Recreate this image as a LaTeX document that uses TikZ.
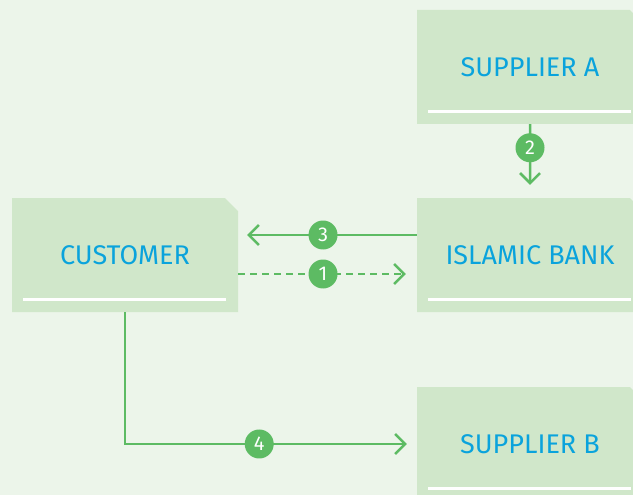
\documentclass[tikz,border=0pt]{standalone}
\usepackage{fontspec}
\setmainfont{Fira Sans}
\usetikzlibrary{shapes.misc, arrows.meta, positioning}
\definecolor{pagebg}{HTML}{ECF5EA}
\definecolor{boxfill}{HTML}{D0E7CA}
\definecolor{flowgreen}{HTML}{5DBB63}
\definecolor{labelblue}{HTML}{0AA3DC}
\tikzstyle{party} = [chamfered rectangle, chamfered rectangle corners=north east,
    chamfered rectangle xsep=15pt, fill=boxfill, inner sep=0pt,
    minimum width=226pt, minimum height=114pt, text=labelblue,
    font=\fontsize{27}{30}\selectfont]
\tikzstyle{num} = [circle, fill=flowgreen, text=white, inner sep=0pt,
    minimum size=29pt, font=\fontsize{20}{21}\selectfont]
\tikzstyle{flow} = [draw=flowgreen, line width=2.5pt]
\tikzstyle{rule} = [draw=white, line width=3pt]

\begin{document}
\begin{tikzpicture}[x=1pt, y=-1pt, node distance=405pt, >={Straight Barb[length=10pt,width=20pt]}]
    \useasboundingbox (0,0) rectangle (633,495);
    \clip (0,0) rectangle (633,495);
    \fill [pagebg] (0,0) rectangle (633,495);
    \node [party] (customer) at (125,255) {CUSTOMER};
    \node [party, right of=customer] (bank) {ISLAMIC BANK};
    \node [party, above of=bank, node distance=188pt] (suppA) {SUPPLIER A};
    \node [party, below of=bank, node distance=189pt] (suppB) {SUPPLIER B};
    \foreach \n in {customer, bank, suppA, suppB}
        \draw [rule] ([xshift=-102pt,yshift=13pt]\n.south) -- ([xshift=101pt,yshift=13pt]\n.south);
    \draw [flow, ->, shorten >=13pt] (suppA) -- node [num, pos=0.32] {2} (bank);
    \draw [flow, ->, shorten >=9pt] ([yshift=20pt]bank.west) -- node [num, pos=0.525] {3} ([yshift=20pt]customer.east);
    \draw [flow, ->, dash pattern=on 7pt off 5pt, shorten >=11pt] ([yshift=-19pt]customer.east) -- node [num, pos=0.475] {1} ([yshift=-19pt]bank.west);
    \draw [flow, ->, shorten >=10pt] (customer) |- node [num, pos=0.73] {4} (suppB);
\end{tikzpicture}
\end{document}
